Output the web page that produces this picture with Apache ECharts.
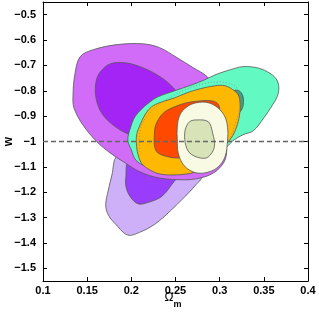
<!DOCTYPE html>
<html><head><meta charset="utf-8">
<script src="https://cdn.jsdelivr.net/npm/echarts@6/dist/echarts.min.js"></script>
<style>html,body{margin:0;padding:0;background:#fff}#c{width:319px;height:312px}</style>
</head><body><div id="c"></div>
<script>
// Axis ticks
const xTicks = [0.1, 0.15, 0.2, 0.25, 0.3, 0.35, 0.4];
const yTicks = [-1.5, -1.4, -1.3, -1.2, -1.1, -1, -0.9, -0.8, -0.7, -0.6, -0.5];
// Reference line w = -1
const refLine = [[0.1, -1], [0.4, -1]];

// Contours as [Omega_m, w] pairs
const lavender = [[0.184,-1.057],[0.178,-1.132],[0.174,-1.191],[0.171,-1.250],[0.174,-1.290],[0.183,-1.329],[0.196,-1.369],[0.210,-1.357],[0.227,-1.325],[0.244,-1.274],[0.259,-1.223],[0.272,-1.175],[0.280,-1.136],[0.272,-1.092],[0.244,-1.053],[0.210,-1.041]];
const lowerViolet = [[0.196,-1.080],[0.194,-1.132],[0.194,-1.179],[0.199,-1.219],[0.208,-1.246],[0.221,-1.238],[0.235,-1.215],[0.249,-1.155],[0.261,-1.104],[0.249,-1.053],[0.210,-1.053]];
const magentaOuter = [[0.134,-0.816],[0.136,-0.737],[0.142,-0.666],[0.157,-0.638],[0.184,-0.618],[0.213,-0.615],[0.232,-0.630],[0.252,-0.670],[0.270,-0.709],[0.286,-0.745],[0.295,-0.796],[0.303,-0.895],[0.306,-0.990],[0.308,-1.033],[0.306,-1.073],[0.300,-1.104],[0.291,-1.128],[0.278,-1.144],[0.261,-1.151],[0.232,-1.144],[0.210,-1.120],[0.191,-1.080],[0.176,-1.045],[0.161,-1.001],[0.145,-0.934],[0.135,-0.867]];
const magentaInner = [[0.160,-0.765],[0.165,-0.725],[0.176,-0.694],[0.193,-0.690],[0.210,-0.705],[0.229,-0.737],[0.244,-0.776],[0.255,-0.824],[0.259,-0.895],[0.244,-0.954],[0.221,-0.986],[0.200,-0.975],[0.182,-0.942],[0.167,-0.891],[0.160,-0.828]];
const aqua = [[0.196,-0.994],[0.199,-0.946],[0.204,-0.903],[0.212,-0.871],[0.221,-0.844],[0.230,-0.824],[0.249,-0.800],[0.269,-0.776],[0.283,-0.757],[0.295,-0.737],[0.312,-0.717],[0.326,-0.705],[0.342,-0.709],[0.354,-0.725],[0.364,-0.753],[0.367,-0.788],[0.365,-0.824],[0.360,-0.855],[0.350,-0.907],[0.338,-0.958],[0.326,-0.974],[0.315,-0.997],[0.307,-1.025],[0.300,-1.041],[0.289,-1.065],[0.266,-1.092],[0.238,-1.104],[0.216,-1.096],[0.205,-1.073],[0.200,-1.033]];
const teal = [[0.316,-0.800],[0.322,-0.800],[0.326,-0.818],[0.327,-0.840],[0.326,-0.866],[0.322,-0.885],[0.316,-0.880],[0.312,-0.830]];
const orange = [[0.206,-1.021],[0.206,-0.974],[0.210,-0.934],[0.216,-0.891],[0.223,-0.863],[0.232,-0.847],[0.249,-0.828],[0.263,-0.808],[0.278,-0.792],[0.295,-0.780],[0.306,-0.780],[0.315,-0.796],[0.321,-0.816],[0.323,-0.844],[0.323,-0.883],[0.320,-0.934],[0.314,-0.982],[0.305,-1.020],[0.295,-1.073],[0.272,-1.120],[0.263,-1.128],[0.247,-1.132],[0.232,-1.128],[0.221,-1.112],[0.212,-1.088],[0.208,-1.057]];
const dotted = [[0.210,-1.041],[0.209,-0.994],[0.212,-0.934],[0.221,-0.887],[0.235,-0.844],[0.261,-0.796],[0.278,-0.776],[0.297,-0.765],[0.315,-0.776],[0.321,-0.796],[0.323,-0.828],[0.322,-0.883],[0.317,-0.934],[0.312,-0.986],[0.303,-1.033]];
const red = [[0.226,-0.982],[0.227,-0.942],[0.231,-0.911],[0.238,-0.883],[0.249,-0.863],[0.263,-0.847],[0.278,-0.840],[0.291,-0.840],[0.298,-0.851],[0.300,-0.880],[0.295,-0.974],[0.272,-1.053],[0.253,-1.065],[0.238,-1.057],[0.229,-1.041],[0.226,-1.013]];
const cream = [[0.252,-0.994],[0.252,-0.942],[0.255,-0.895],[0.263,-0.863],[0.274,-0.847],[0.287,-0.847],[0.298,-0.867],[0.306,-0.903],[0.309,-0.946],[0.309,-0.994],[0.306,-1.061],[0.297,-1.104],[0.283,-1.124],[0.270,-1.120],[0.259,-1.092],[0.253,-1.045]];
const green = [[0.274,-0.915],[0.287,-0.922],[0.292,-0.966],[0.294,-1.021],[0.287,-1.061],[0.278,-1.065],[0.266,-1.045],[0.261,-1.005],[0.261,-0.954],[0.266,-0.922]];

const FONT = 'Liberation Sans';

function polySeries(name, pts, fill, z) {
  return {
    type: 'custom', name: name, z: z, silent: true, clip: true,
    data: [pts[0]],
    encode: { x: 0, y: 1 },
    renderItem: function (params, api) {
      const points = pts.map(function (p) { return api.coord(p); });
      return {
        type: 'polygon',
        shape: { points: points, smooth: 0.35 },
        style: { fill: fill, stroke: '#555', lineWidth: 0.8 }
      };
    }
  };
}
function dottedSeries(pts, z) {
  return {
    type: 'custom', name: 'dotted', z: z, silent: true, clip: true,
    data: [pts[0]],
    encode: { x: 0, y: 1 },
    renderItem: function (params, api) {
      const points = pts.map(function (p) { return api.coord(p); });
      return {
        type: 'polyline',
        shape: { points: points, smooth: 0.35 },
        style: { fill: null, stroke: '#8a8a8a', lineWidth: 0.8, lineDash: [1, 2] }
      };
    }
  };
}

const axisLine = { show: true, onZero: false, lineStyle: { color: '#000', width: 1 } };
const tickStyle = { color: '#000', width: 1 };

const option = {
  animation: false,
  backgroundColor: '#fff',
  grid: { left: 43, right: 11, top: 2, bottom: 31, containLabel: false, outerBoundsMode: 'none' },
  xAxis: [{
    type: 'value', min: 0.1, max: 0.4, position: 'bottom',
    axisLine: axisLine,
    axisTick: { inside: true, length: 4, customValues: xTicks, lineStyle: tickStyle },
    axisLabel: { customValues: xTicks, formatter: function (v) { return String(v); },
      color: '#000', fontWeight: 'bold', fontSize: 11, fontFamily: FONT, margin: 4 },
    splitLine: { show: false },
    name: '{o|Ω}{m|m}', nameLocation: 'middle', nameGap: 11, nameMoveOverlap: false,
    nameTextStyle: { color: '#000', fontFamily: FONT, padding: [0, 5, 0, 0],
      rich: {
        o: { fontSize: 12, fontFamily: FONT, color: '#000', verticalAlign: 'top', lineHeight: 17 },
        m: { fontSize: 9, fontFamily: FONT, fontWeight: 'bold', color: '#000', verticalAlign: 'bottom', lineHeight: 17 }
      } }
  }, {
    type: 'value', min: 0.1, max: 0.4, position: 'top',
    axisLine: axisLine,
    axisTick: { inside: true, length: 4, customValues: xTicks, lineStyle: tickStyle },
    axisLabel: { show: false }, splitLine: { show: false }
  }],
  yAxis: [{
    type: 'value', min: -1.55, max: -0.45, position: 'left',
    axisLine: axisLine,
    axisTick: { inside: true, length: 4, customValues: yTicks, lineStyle: tickStyle },
    axisLabel: { customValues: yTicks, formatter: function (v) { return String(v).replace('-', '\u2212'); },
      color: '#000', fontWeight: 'bold', fontSize: 11, fontFamily: FONT, margin: 7 },
    splitLine: { show: false },
    name: 'w', nameLocation: 'middle', nameGap: 28, nameMoveOverlap: false,
    nameTextStyle: { color: '#000', fontWeight: 'bold', fontSize: 12, fontFamily: FONT }
  }, {
    type: 'value', min: -1.55, max: -0.45, position: 'right',
    axisLine: axisLine,
    axisTick: { inside: true, length: 4, customValues: yTicks, lineStyle: tickStyle },
    axisLabel: { show: false }, splitLine: { show: false }
  }],
  series: [
    polySeries('lavender', lavender, '#CDB0F8', 1),
    polySeries('lowerViolet', lowerViolet, '#9A3CFC', 2),
    polySeries('magentaOuter', magentaOuter, '#D06CF8', 3),
    polySeries('magentaInner', magentaInner, '#A424F6', 4),
    polySeries('aqua', aqua, '#62FAC2', 5),
    polySeries('teal', teal, '#3E9E86', 6),
    polySeries('orange', orange, '#FFB800', 7),
    dottedSeries(dotted, 8),
    polySeries('red', red, '#FF4800', 9),
    polySeries('cream', cream, '#F8FAE3', 10),
    polySeries('green', green, '#D8E4B8', 11),
    {
      type: 'line', name: 'w=-1', z: 12, silent: true, symbol: 'none',
      data: refLine,
      lineStyle: { color: '#666', width: 1.5, type: [5, 3] }
    }
  ]
};
const chart = echarts.init(document.getElementById('c'), null, { renderer: 'canvas' });
chart.setOption(option);
</script>
</body></html>
